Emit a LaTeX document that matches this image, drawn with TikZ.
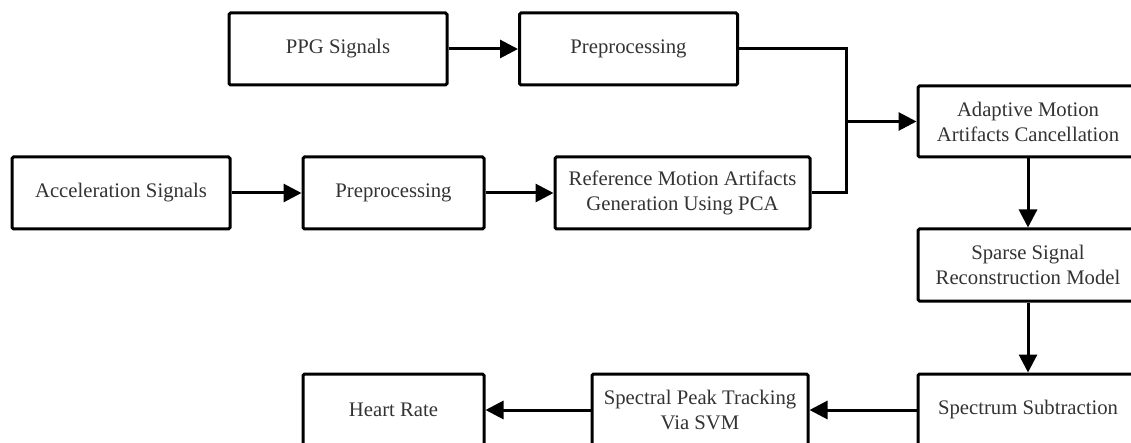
\documentclass[tikz,border=0pt]{standalone}
\usepackage{fontspec}
\setmainfont{Liberation Serif}
\usetikzlibrary{arrows.meta}
\tikzset{
  blk/.style={draw=black, line width=3pt, rectangle, rounded corners=1.5pt,
    inner sep=0pt, minimum height=72pt, align=center, text=black!80,
    font=\fontsize{20.7}{25}\selectfont},
  link/.style={draw=black, line width=3pt},
  flow/.style={link, -{Triangle[length=18pt,width=18pt]}}
}
\begin{document}
\begin{tikzpicture}[x=1pt, y=-1pt]
  \useasboundingbox (0,0) rectangle (1131,443);
  \clip (0,0) rectangle (1131,443);
  \fill[white] (0,0) rectangle (1131,443);

  % top row
  \node[blk, minimum width=218pt] (ppg)  at (338,49) {PPG Signals};
  \node[blk, minimum width=218pt] (pre1) at (628.5,49) {Preprocessing};

  % middle row
  \node[blk, minimum width=218pt] (acc)  at (121,193)   {Acceleration Signals};
  \node[blk, minimum width=181pt] (pre2) at (393.5,193) {Preprocessing};
  \node[blk, minimum width=255pt] (ref)  at (682.5,193) {Reference Motion Artifacts\\Generation Using PCA};

  % right column
  \node[blk, minimum width=220pt, minimum height=71pt] (ama) at (1028,121.5) {Adaptive Motion\\Artifacts Cancellation};
  \node[blk, minimum width=220pt] (ssr) at (1028,265) {Sparse Signal\\Reconstruction Model};
  \node[blk, minimum width=220pt] (sub) at (1028,410) {Spectrum Subtraction};

  % bottom row
  \node[blk, minimum width=216pt] (spt) at (700,410)   {Spectral Peak Tracking\\Via SVM};
  \node[blk, minimum width=181pt] (hr)  at (393.5,410) {Heart Rate};

  % junction where both branches merge
  \coordinate (j) at (846,121.5);

  \draw[flow] (ppg) -- (pre1);
  \draw[flow] (acc) -- (pre2);
  \draw[flow] (pre2) -- (ref);
  \draw[link, line join=miter] (pre1.east) -| (j) |- (ref.east);
  \draw[flow] (j) -- (ama.west);
  \draw[flow] (ama) -- (ssr);
  \draw[flow] (ssr) -- (sub);
  \draw[flow] (sub) -- (spt);
  \draw[flow] (spt) -- (hr);
\end{tikzpicture}
\end{document}
